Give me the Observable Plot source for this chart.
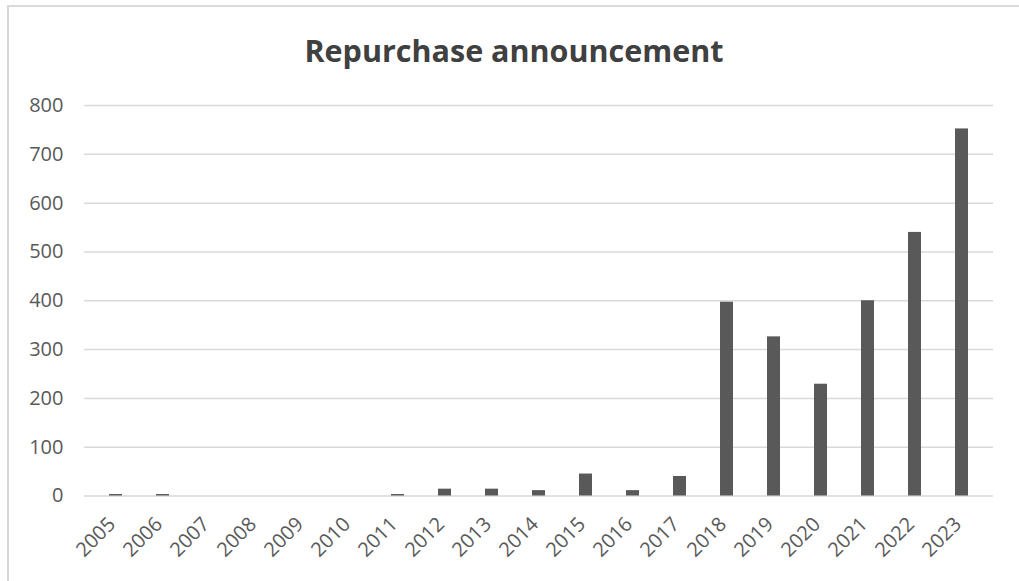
<!DOCTYPE html>
<html>
<head>
<meta charset="utf-8">
<script src="https://cdn.jsdelivr.net/npm/d3@7"></script>
<script src="https://cdn.jsdelivr.net/npm/@observablehq/plot@0.6"></script>
<style>
  html, body { margin: 0; padding: 0; background: #fff; overflow: hidden; }
  #page { position: relative; width: 1019px; height: 581px; overflow: hidden; }
  #frame {
    position: absolute; left: 7px; top: 5px; width: 1030px; height: 600px;
    border: 2px solid #d9d9d9; box-sizing: border-box;
  }
  #title {
    position: absolute; left: 8px; width: 1012px; top: 35px;
    text-align: center; font-family: "Open Sans", sans-serif; font-weight: 700;
    font-size: 30.5px; line-height: 1; color: #404040;
  }
  #chart { position: absolute; left: 0; top: 80px; }
</style>
</head>
<body>
<div id="page">
  <div id="frame"></div>
  <div id="title">Repurchase announcement</div>
  <div id="chart"></div>
</div>
<script>
// Repurchase announcements per year
const years = ["2005","2006","2007","2008","2009","2010","2011","2012","2013","2014",
               "2015","2016","2017","2018","2019","2020","2021","2022","2023"];
const counts = [3, 3, 0, 0, 0, 0, 3, 14, 14, 11, 45, 11, 40, 397, 326, 229, 400, 540, 752];
const yTicks = [0, 100, 200, 300, 400, 500, 600, 700, 800];

const rows = years.map((year, i) => ({year, count: counts[i]}));

const chart = Plot.plot({
  width: 1019,
  height: 501,
  marginTop: 25,
  marginBottom: 85.5,
  marginLeft: 84,
  marginRight: 26,
  style: {fontFamily: "'Open Sans', sans-serif", fontSize: "20px", color: "#595959", background: "transparent"},
  x: {domain: years, paddingInner: 0.72, paddingOuter: 0.36, label: null},
  y: {domain: [0, 800], label: null},
  marks: [
    Plot.ruleY(yTicks, {stroke: "#d9d9d9", strokeWidth: 1.5}),
    Plot.barY(rows, {x: "year", y: "count", fill: "#595959"}),
    Plot.axisY(yTicks, {tickSize: 0, tickPadding: 21, label: null, fontSize: 20}),
    Plot.axisX({tickSize: 0, tickRotate: -45, tickPadding: 25, dx: -4, label: null, fontSize: 20})
  ]
});
document.getElementById("chart").appendChild(chart);
</script>
</body>
</html>
